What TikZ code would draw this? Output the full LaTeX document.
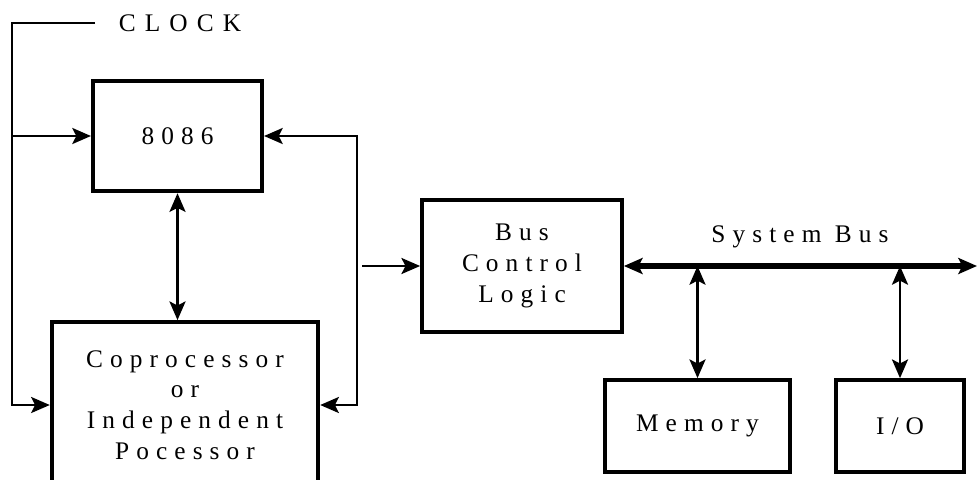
\documentclass[tikz,border=0pt]{standalone}
\usepackage{fontspec}
\setmainfont{Liberation Serif}
\usetikzlibrary{arrows.meta}
\newcommand\boxfont{\fontsize{19}{23}\selectfont\addfontfeatures{LetterSpace=28}}
\begin{document}
\begin{tikzpicture}[x=0.75pt,y=-0.75pt,line join=miter,>={Stealth[length=14pt,width=12pt,inset=3pt]},
  blk/.style={draw,line width=2.8pt,inner sep=0pt,align=center,font=\boxfont},
  wire/.style={line width=2pt},
  bus/.style={line width=3.8pt}]
  \useasboundingbox (0,0) rectangle (977,479);
  % blocks
  \node[blk,minimum width=127pt,minimum height=83pt] (cpu) at (177.5,136) {8086};
  \node[blk,minimum width=200pt,minimum height=124.5pt] (cop) at (185,405)
    {Coprocessor\\or\\Independent\\Pocessor};
  \node[blk,minimum width=150pt,minimum height=99pt] (bcl) at (522,266) {Bus\\Control\\Logic};
  \node[blk,minimum width=139pt,minimum height=69pt] (mem) at (697.5,426) {Memory};
  \node[blk,minimum width=96pt,minimum height=69pt] (io) at (900,426) {I/O};
  \node[font=\fontsize{19}{23}\selectfont\addfontfeatures{LetterSpace=36}] (clk) at (180,23) {CLOCK};
  \node[font=\boxfont] (sbus) at (800,237) {System Bus};
  % clock lines
  \coordinate (ckin) at (95,23);
  \coordinate (ckc) at (12,23);
  \draw[wire,->] (ckin) -- (ckc) |- (cop.west);
  \draw[wire,->] (ckc |- cpu.west) -- (cpu.west);
  % local bus
  \coordinate (bx) at (357,266);
  \draw[wire,<->] (cpu.east) -| (bx) |- (cop.east);
  \draw[wire,->] ([xshift=4pt]bx) -- (bcl.west);
  \draw[wire,<->] (cpu.south) -- (cpu.south |- cop.north);
  % system bus
  \coordinate (busend) at (977,266);
  \draw[wire,<->] (mem.north |- bcl.east) -- (mem.north);
  \draw[wire,<->] (io.north |- bcl.east) -- (io.north);
  \draw[bus,<->] (bcl.east) -- (busend);
\end{tikzpicture}
\end{document}
